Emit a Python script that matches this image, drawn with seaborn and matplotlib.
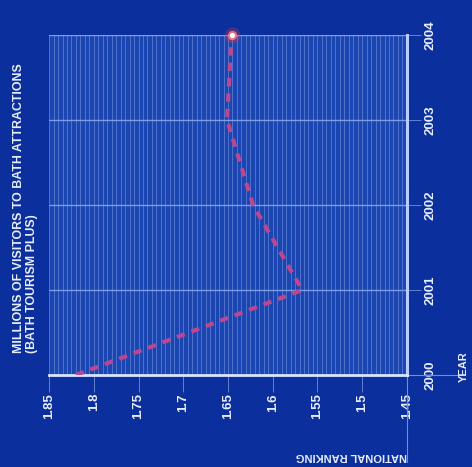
import matplotlib
matplotlib.use("Agg")
import matplotlib.pyplot as plt
from matplotlib.ticker import MultipleLocator, FixedLocator
import seaborn as sns
import pandas as pd

# Visitor numbers (millions) per year
years = [2000, 2001, 2002, 2003, 2004]
visitors = [1.82, 1.567, 1.622, 1.651, 1.646]
value_ticks = [1.85, 1.8, 1.75, 1.7, 1.65, 1.6, 1.55, 1.5, 1.45]
value_labels = ["1.85", "1.8", "1.75", "1.7", "1.65", "1.6", "1.55", "1.5", "1.45"]
year_labels = ["2000", "2001", "2002", "2003", "2004"]

df = pd.DataFrame({"year": years, "visitors": visitors})

sns.set_theme(style="dark")
plt.rcParams["font.family"] = ["Liberation Sans", "DejaVu Sans"]

BG = "#0b2f9c"
FACE = "#1b46b2"
TXT = "#e8eeff"

fig = plt.figure(figsize=(4.72, 4.67), dpi=100, facecolor=BG)
ax = fig.add_axes([0.104, 0.197, 0.758, 0.728])
ax.set_facecolor(FACE)

sns.lineplot(data=df, x="visitors", y="year", sort=False, estimator=None,
             orient="y", ax=ax, color="#bc4690", lw=3.0,
             dashes=False, zorder=5)
ax.lines[-1].set_dashes([2.0, 1.7])

# glowing end marker
last = df.iloc[-1]
ax.scatter([last.visitors], [last.year], s=130, color="#ff3040", alpha=0.3,
           zorder=6, clip_on=False, linewidths=0)
ax.scatter([last.visitors], [last.year], s=45, color="#ff8080", alpha=0.8,
           zorder=7, clip_on=False, linewidths=0)
ax.scatter([last.visitors], [last.year], s=14, color="white",
           zorder=8, clip_on=False, linewidths=0)

ax.set_xlim(1.85, 1.45)
ax.set_ylim(2000, 2004)
ax.set_xlabel("")
ax.set_ylabel("")

ax.xaxis.set_major_locator(FixedLocator(value_ticks))
ax.xaxis.set_minor_locator(MultipleLocator(0.005))
ax.set_xticks(value_ticks)
ax.set_xticklabels(value_labels, rotation=90, color=TXT, fontsize=9.5,
                   fontweight="bold")
ax.set_yticks(years)
ax.set_yticklabels(year_labels, rotation=90, color=TXT, fontsize=9.5,
                   fontweight="bold", va="center")
ax.yaxis.tick_right()

ax.grid(False)
ax.grid(which="minor", axis="x", color="#7896e0", lw=0.6, alpha=0.65)
ax.grid(which="major", axis="x", color="#7896e0", lw=0.6, alpha=0.65)
ax.grid(which="major", axis="y", color="#86a6ee", lw=1.0, alpha=0.9)

ax.tick_params(axis="x", which="major", length=12, width=0.6,
               color="#6f8fd8", pad=1, bottom=True)
ax.tick_params(axis="x", which="minor", length=0)
ax.tick_params(axis="y", which="major", length=10, width=0.6,
               color="#6f8fd8", pad=3, right=True, left=False)

for side in ["left", "top"]:
    ax.spines[side].set_visible(False)
ax.spines["right"].set_color("#b8ccff")
ax.spines["right"].set_linewidth(2.2)
ax.spines["bottom"].set_color("#d8e4ff")
ax.spines["bottom"].set_linewidth(2.0)

# axis guide lines running out to the axis titles
ax.plot([1.45, 1.45], [2000, 1998.98], color="#6f8fd8", lw=0.8,
        clip_on=False, zorder=1)
ax.plot([1.45, 1.3885], [2000, 2000], color="#6f8fd8", lw=0.8,
        clip_on=False, zorder=1)

fig.text(0.862, 0.012, "NATIONAL RANKING", rotation=180, ha="right",
         va="bottom", color=TXT, fontsize=8, fontweight="bold")
fig.text(0.972, 0.215, "YEAR", rotation=90, ha="left", va="center",
         color=TXT, fontsize=8, fontweight="bold")
fig.text(0.027, 0.245,
         "MILLIONS OF VISITORS TO BATH ATTRACTIONS\n(BATH TOURISM PLUS)",
         rotation=90, ha="left", va="bottom", color=TXT, fontsize=8.9,
         fontweight="bold", linespacing=1.12, multialignment="left")

fig.savefig("out.png", dpi=100, facecolor=BG)
